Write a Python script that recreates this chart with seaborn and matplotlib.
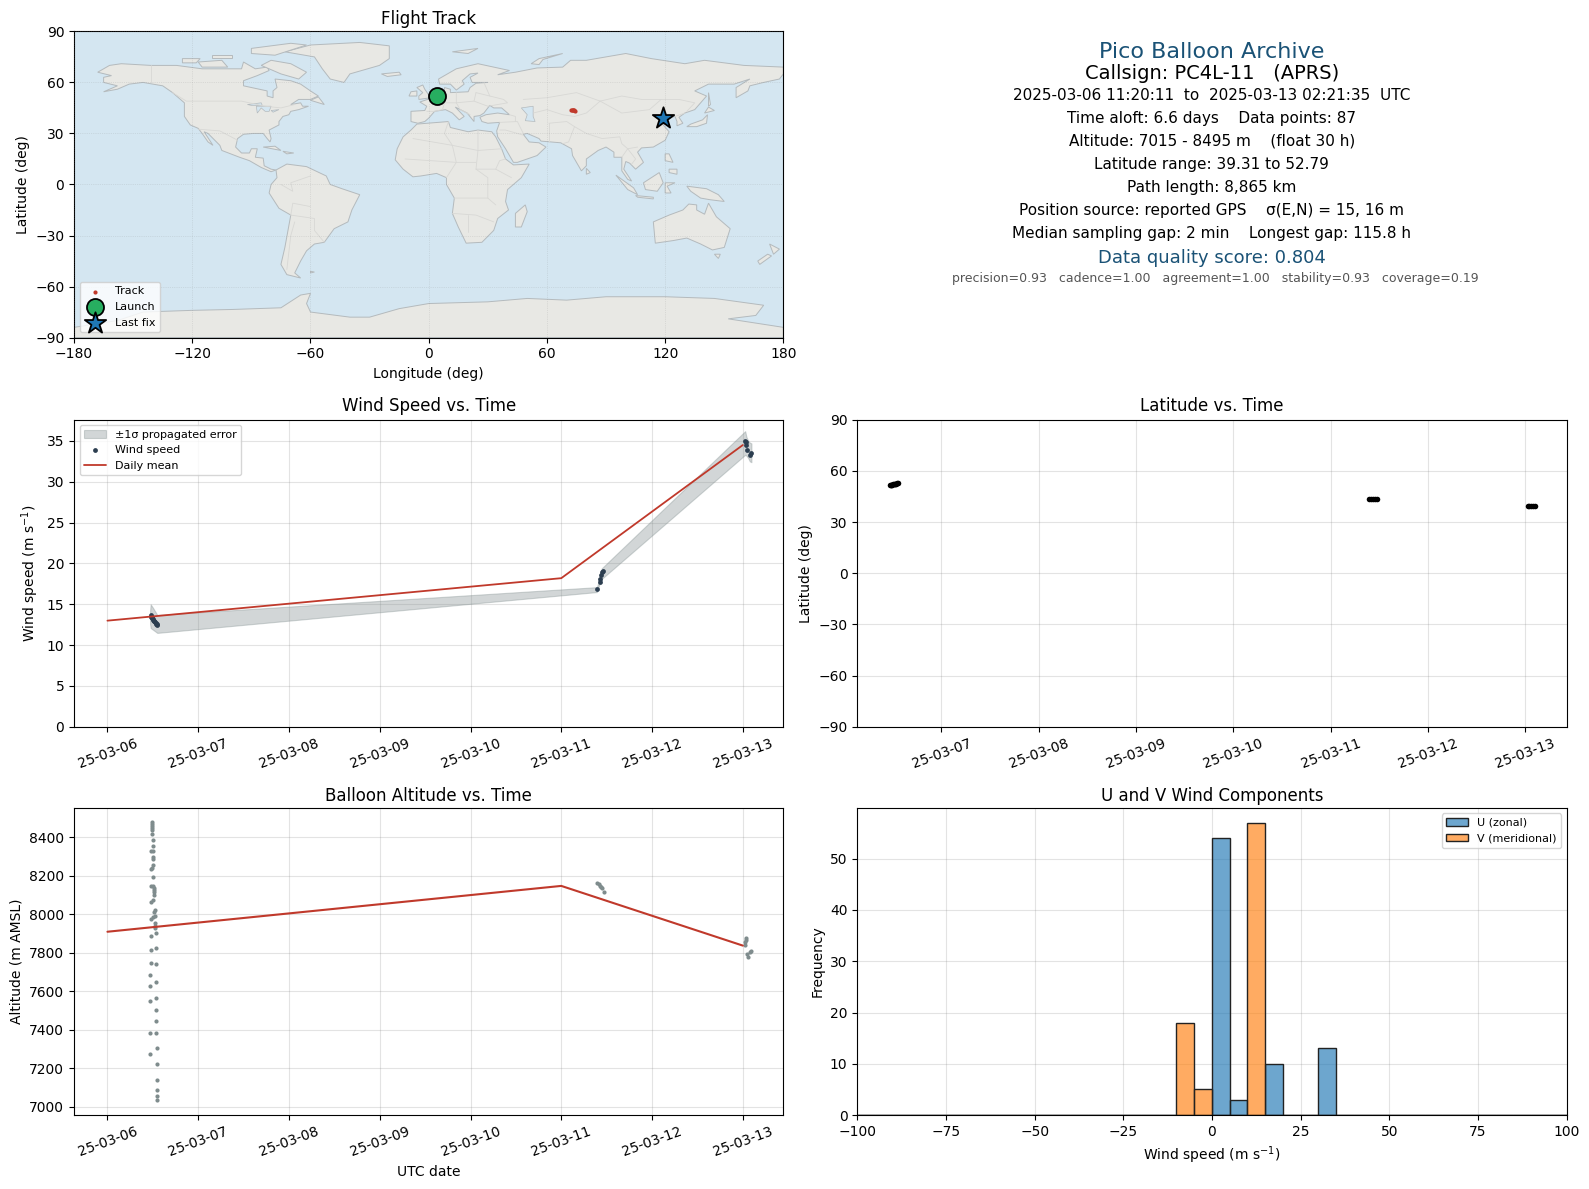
import numpy as np
import pandas as pd
import matplotlib
matplotlib.use("Agg")
import matplotlib.pyplot as plt
import matplotlib.dates as mdates
import seaborn as sns

# Flight data. Times are days of March 2025
alt_days = [6.489, 6.489, 6.489, 6.489, 6.493, 6.496, 6.5, 6.5, 6.478, 6.5, 6.5, 6.504, 6.5, 6.489, 6.478,
            6.5, 6.478, 6.507, 6.515, 6.515, 6.515, 6.515, 6.507, 6.478, 6.522, 6.511, 6.522, 6.478, 6.504,
            6.526, 6.526, 6.526, 6.533, 6.478, 6.533, 6.478, 6.478, 6.533, 6.467, 6.533, 6.467, 6.533,
            6.467, 6.533, 6.533, 6.467, 6.533, 6.544, 6.467, 6.544, 6.544, 6.544, 6.544, 6.544,
            11.396, 11.418, 11.432, 11.443, 11.454, 11.473,
            13.033, 13.033, 13.029, 13.026, 13.092, 13.077, 13.048, 13.055]
alt_m = [8482, 8472, 8461, 8451, 8440, 8416, 8384, 8353, 8327, 8327, 8300, 8286, 8258, 8243, 8236,
         8196, 8148, 8148, 8138, 8126, 8117, 8100, 8075, 8065, 8023, 8010, 7991, 7975, 7986,
         7955, 7941, 7928, 7902, 7886, 7823, 7813, 7750, 7740, 7687, 7650, 7630, 7567,
         7551, 7504, 7446, 7383, 7383, 7305, 7273, 7221, 7142, 7090, 7055, 7036,
         8165, 8158, 8150, 8143, 8136, 8117,
         7878, 7867, 7855, 7843, 7812, 7803, 7795, 7779]

wind_days = [6.476, 6.482, 6.488, 6.494, 6.5, 6.506, 6.512, 6.518, 6.524, 6.53, 6.537, 6.543, 6.549,
             11.392, 11.425, 11.432, 11.44, 11.447, 11.465,
             13.026, 13.033, 13.04, 13.051, 13.077, 13.095]
wind_ms = [13.7, 13.5, 13.4, 13.3, 13.2, 13.1, 13.0, 12.9, 12.8, 12.7, 12.6, 12.55, 12.5,
           16.87, 17.68, 18.09, 18.62, 18.94, 19.07,
           35.04, 34.9, 34.5, 33.86, 33.3, 33.5]

band_days = [6.47, 6.476, 6.5, 6.549, 11.392, 11.425, 11.445, 13.026, 13.04, 13.06, 13.077, 13.095]
band_low = [12.6, 12.1, 11.9, 11.5, 16.5, 17.6, 18.1, 33.3, 33.2, 32.9, 32.5, 32.4]
band_high = [14.2, 15.0, 14.6, 13.7, 17.1, 18.2, 19.4, 36.2, 35.5, 35.0, 34.8, 34.7]

mean_days = [6, 11, 13]
mean_wind = [13.0, 18.2, 34.5]
mean_alt = [7910, 8148, 7838]

lat_days = [6.47, 6.478, 6.486, 6.494, 6.502, 6.51, 6.518, 6.526, 6.534, 6.542, 6.55,
            11.4, 11.42, 11.44, 11.46, 11.475,
            13.03, 13.045, 13.06, 13.08, 13.1]
lat_deg = [51.6, 51.7, 51.9, 52.0, 52.1, 52.2, 52.3, 52.4, 52.6, 52.7, 52.79,
           43.5, 43.6, 43.7, 43.7, 43.6,
           39.4, 39.31, 39.35, 39.4, 39.33]

track_lon = [72.2, 72.6, 73.0, 73.4, 73.8, 74.0]
track_lat = [43.9, 43.8, 43.7, 43.6, 43.5, 43.4]
launch_pt = (4.0, 52.0)
last_pt = (118.8, 39.3)

bin_edges = list(range(-100, 105, 5))
u_left = [0, 5, 15, 30]
u_count = [54, 3, 10, 13]
v_left = [-10, -5, 10]
v_count = [18, 5, 57]

info_lines = ["2025-03-06 11:20:11  to  2025-03-13 02:21:35  UTC",
              "Time aloft: 6.6 days    Data points: 87",
              "Altitude: 7015 - 8495 m    (float 30 h)",
              "Latitude range: 39.31 to 52.79",
              "Path length: 8,865 km",
              "Position source: reported GPS    σ(E,N) = 15, 16 m",
              "Median sampling gap: 2 min    Longest gap: 115.8 h"]

# Rough coastlines
north_america = [(-168,66),(-162,70),(-156,71),(-141,70),(-128,70),(-115,68),(-108,68),(-95,68),(-94,72),(-88,68),
                 (-82,69),(-81,67),(-87,64),(-94,61),(-94,58),(-88,56.5),(-82,55),(-82,52),(-79,51),(-79,55),(-77,57),
                 (-78,62),(-70,61),(-65,59),(-60,55),(-56,52),(-60,50),(-66,50),(-70,47),(-65,48),(-64,46),(-61,46),
                 (-66,44),(-70,43),(-71,41),(-74,40),(-76,37),(-76,35),(-81,32),(-80,27),(-80.5,25),(-82,27),(-84,30),
                 (-89,30),(-94,29.5),(-97,27),(-98,22),(-95,18.5),(-91,18.5),(-90,21),(-87,21),(-88,16),(-84,15.5),
                 (-83.5,11),(-80,9),(-77.5,8.5),(-80,7.5),(-85,10),(-91,14),(-96,16),(-105,20),(-106,23),(-112,30),
                 (-114,31),(-109.5,23),(-112,25),(-115,30),(-117,33),(-121,35),(-124,40),(-124,48),(-130,54),(-135,58),
                 (-145,60),(-152,59),(-158,56),(-165,54.5),(-158,58),(-165,60),(-165,63),(-161,64)]
south_america = [(-77.5,8.5),(-72,12),(-62,10.5),(-52,5),(-50,0),(-44,-2.5),(-35,-6),(-39,-15),(-41,-22),(-48,-26),
                 (-53,-34),(-58,-35),(-62,-39),(-65,-45),(-68,-52),(-65,-55),(-72,-53),(-75,-47),(-73,-37),(-70,-18),
                 (-76,-14),(-81,-5),(-80,0),(-77,4)]
africa = [(-6,35.5),(10,37),(11,33.5),(20,31),(25,32),(32,31),(34,28),(37,21),(39,15),(43,11.5),(51,12),(47,4),(40,-3),
          (39,-10),(40.5,-15),(35,-20),(33,-27),(27,-34),(19,-34.5),(15,-25),(12,-17),(13,-8),(9,0),(9,4),(4,6.5),
          (-4,5),(-8,4.5),(-13,9),(-17,14.5),(-16,21),(-13,28),(-9,32)]
eurasia = [(-9,37),(-9,43),(-2,43.5),(-1,46),(-4.5,48.5),(2,51),(8,54),(8,57),(11,56),(11,54),(20,54.5),(21,57),(24,59.5),
           (30,60),(22,60),(21,63),(25,65.5),(21,65),(17,61),(18,59),(14,55.5),(11,59),(5.5,59),(5,62),(14,68),(25,71),
           (41,67),(35,64.5),(44,66),(55,68.5),(68,69),(72,73),(80,73),(100,77),(113,74),(130,71),(140,73),(160,70),
           (180,69),(180,65),(178,62),(170,60),(163,58),(162,55),(156,51),(156,57),(163,62),(155,59),(142,59),(135,55),
           (141,52),(135,44),(130,42),(127,39.5),(129,36),(126,34.5),(126,37),(125,40),(121,39),(118,39),(122,37),
           (119,35),(122,31),(120,26),(114,22),(108,21.5),(106,19),(109,13),(105,9),(102,12.5),(100,13.5),(99,9),(103,2),
           (101,3),(98,8),(98,16),(94,16),(94,19),(90,22),(86,20),(80,15),(80,11),(77.5,8),(73,17),(72.5,21),(67,24.5),
           (57,25.5),(56,27),(50,30),(48,29.5),(51,25),(56,24.5),(59.5,22),(55,17),(45,13),(43,13),(39,21),(35,28),
           (34.5,31.5),(36,36.5),(30,36),(27,37),(26,39.5),(29,41),(35,42),(41,41),(37,45),(33,45),(31,46.5),(28,42),
           (26,40.5),(23,40),(23,37),(19.5,42),(13.5,45.5),(18,40),(15.5,38),(12,42),(8.5,44),(3,43),(0,39),(-2,37),
           (-5.5,36)]
australia = [(114,-22),(122,-18),(129,-15),(132,-11.5),(136,-12),(136,-15),(140,-17.5),(142,-11),(146,-19),(153,-26),
             (150,-37),(144,-38.5),(138,-35),(131,-31.5),(124,-33),(115,-34.5)]
antarctica = [(-180,-90),(-180,-84),(-158,-80),(-145,-75),(-120,-74),(-100,-73.5),(-75,-72.5),(-65,-65),(-60,-64),
              (-62,-70),(-60,-75),(-40,-78),(-30,-78),(-15,-73),(0,-70),(30,-69),(50,-67),(70,-68),(90,-66),(120,-66),
              (145,-67),(170,-71),(166,-77),(152,-79),(180,-84),(180,-90)]
greenland = [(-73,78),(-60,82),(-35,83.5),(-20,81.5),(-20,74),(-25,70),(-40,65),(-43,60),(-50,62),(-54,68),(-58,75)]
islands = [[(-80,73),(-70,71),(-62,66),(-66,62),(-75,65),(-85,70)],
           [(-90,80),(-70,83),(-62,82),(-78,76),(-90,77)],
           [(-117,72),(-105,73),(-102,69),(-115,69)],
           [(-125,74),(-116,74),(-118,71.5),(-125,71.5)],
           [(-110,76),(-100,76),(-100,74.5),(-110,74.5)],
           [(-60,49.5),(-53,47),(-56,51.5)],
           [(-84,22),(-75,20),(-78,22.5)],
           [(-74,19.5),(-68.5,18.5),(-72,18)],
           [(-5,50),(1,51),(-2,56),(-3,58.5),(-6,57),(-3,54),(-5,52)],
           [(-10,52),(-6,52),(-6,55),(-9,54.5)],
           [(-24,65),(-15,66),(-14,64.5),(-21,63.5)],
           [(12,78),(25,80),(20,77)],
           [(52,71),(56,74),(68,77),(58,73.5),(56,70.5)],
           [(49,-12),(50,-16),(47,-25),(44,-25),(44,-17)],
           [(80,9.5),(82,7),(80,6)],
           [(131,34),(136,34),(141,36),(141.5,41),(139,38),(133,35.5)],
           [(140,42),(145,43.5),(142,45.5)],
           [(142,54),(143,47),(142,46),(142,50)],
           [(95,5.5),(104,-2),(106,-6),(101,-3)],
           [(105,-6.5),(114,-7.5),(114,-8.5),(106,-7.5)],
           [(109,1),(117,7),(119,1),(116,-4),(110,-3)],
           [(120,1),(125,1),(121,-1),(123,-5),(120,-5)],
           [(131,-1),(141,-2.5),(147,-6),(150,-10),(143,-9),(138,-8),(133,-4)],
           [(120,18),(122,18),(124,13),(120,14)],
           [(122,9),(126,9),(126,6),(122,7)],
           [(145,-41),(148,-41),(147,-43.5)],
           [(173,-35),(178,-38),(175,-41),(174,-38)],
           [(172,-41),(174,-42),(168,-47),(167,-45)],
           [(-60,-51),(-58,-51.5),(-60,-52)]]
lakes = [[(47,45),(53,46),(53,40),(54,37),(49,37.5),(50,41)],
         [(-92,47),(-85,48),(-84.5,46.5),(-90,46.5)],
         [(-87.5,46),(-80,46),(-81,43),(-83,43),(-85,45),(-87,42)],
         [(-80,43.5),(-76,44),(-79,42.5)]]
borders = [[(-141,70),(-141,60)],[(-130,54),(-123,49),(-95,49),(-83,46),(-75,45),(-68,47)],
           [(-117,32.5),(-106,31.5),(-97,26)],[(-70,-18),(-58,-20),(-58,-27),(-53,-34)],[(-70,-18),(-69,-11),(-60,-13)],
           [(-75,0),(-69,-4),(-70,1),(-60,5)],[(-72,-50),(-70,-30),(-68,-22)],
           [(-8,27),(12,23),(25,20),(37,21)],[(25,32),(25,20),(24,9),(34,9),(42,4)],[(-12,15),(14,13),(24,13)],
           [(10,37),(8,30),(12,23),(14,13),(9,4)],[(13,-8),(30,-8),(34,-12)],[(12,-17),(24,-18),(33,-22)],
           [(20,-28),(20,-18)],[(30,-8),(30,4),(24,9)],[(34,9),(36,14),(39,15)],
           [(-1,43),(3,43),(7,44),(8,48),(6,51),(2,51)],[(8,48),(14,48),(16,44),(21,41)],[(14,54),(14,48),(23,49),(24,54)],
           [(23,49),(30,46),(40,48),(38,50),(31,52),(24,54)],[(28,60),(31,52)],[(36,36.5),(45,37),(48,30)],[(44,37),(44,40),(41,41)],
           [(36,32),(39,32),(48,29)],[(61,36),(61,25)],[(61,36),(70,37),(74,34),(71,25),(68,24)],
           [(53,42),(60,44),(68,41),(74,40)],[(48,50),(60,51),(75,54),(87,49),(80,42),(74,40)],
           [(87,49),(98,52),(108,50),(118,50),(127,50),(135,48),(131,43)],[(87,49),(98,42),(112,44),(118,50)],
           [(74,34),(80,30),(88,27),(97,28),(98,24),(101,21),(106,22)],[(98,16),(101,21),(105,15),(103,12)],
           [(125,40),(130,42)]]


def to_dates(days):
    # days of March 2025 to timestamps
    return pd.Timestamp("2025-03-01") + pd.to_timedelta(np.array(days) - 1, unit="D")


sns.set_style("ticks")
plt.rcParams.update({"font.family": "DejaVu Sans", "axes.edgecolor": "black", "text.color": "black",
                     "axes.labelcolor": "black", "xtick.color": "black", "ytick.color": "black",
                     "font.size": 10, "axes.titlesize": 12, "axes.labelsize": 10, "axes.titlepad": 5,
                     "xtick.labelsize": 10, "ytick.labelsize": 10, "patch.linewidth": 1.0})

fig = plt.figure(figsize=(15.89, 11.89), dpi=100)
ax_map = fig.add_axes([0.0466, 0.7161, 0.4464, 0.2575])
ax_info = fig.add_axes([0.5395, 0.7161, 0.4464, 0.2575])
ax_wind = fig.add_axes([0.0466, 0.3887, 0.4464, 0.2583])
ax_lat = fig.add_axes([0.5395, 0.3887, 0.4464, 0.2583])
ax_alt = fig.add_axes([0.0466, 0.0622, 0.4464, 0.2583])
ax_hist = fig.add_axes([0.5395, 0.0622, 0.4464, 0.2583])

# Flight track map
ax_map.set_facecolor("#d4e6f1")
land_polys = [north_america, south_america, africa, eurasia, australia, antarctica, greenland] + islands
for poly in land_polys:
    xs, ys = zip(*poly)
    ax_map.fill(xs, ys, facecolor="#e8e8e4", edgecolor="#b4babd", linewidth=0.7, zorder=1)
for poly in lakes:
    xs, ys = zip(*poly)
    ax_map.fill(xs, ys, facecolor="#d4e6f1", edgecolor="#b4babd", linewidth=0.5, zorder=1.5)
for line in borders:
    xs, ys = zip(*line)
    ax_map.plot(xs, ys, color="#d8d8d5", linewidth=0.6, zorder=1.6)
sns.scatterplot(x=track_lon, y=track_lat, ax=ax_map, color="#c0392b", s=9, linewidth=0, label="Track", zorder=4)
ax_map.scatter(*launch_pt, s=150, c="#27ae60", edgecolors="black", linewidths=1.3, label="Launch", zorder=5)
ax_map.scatter(*last_pt, s=260, c="#1f77b4", marker="*", edgecolors="black", linewidths=1.3, label="Last fix", zorder=5)
ax_map.set_xlim(-180, 180)
ax_map.set_ylim(-90, 90)
ax_map.set_xticks(range(-180, 181, 60))
ax_map.set_yticks(range(-90, 91, 30))
ax_map.grid(True, color="gray", alpha=0.3, linewidth=0.5, linestyle=":")
ax_map.set_axisbelow(False)
ax_map.set_title("Flight Track")
ax_map.set_xlabel("Longitude (deg)", labelpad=4)
ax_map.set_ylabel("Latitude (deg)")
ax_map.legend(loc="lower left", fontsize=8)

# Summary text
ax_info.axis("off")
blue = "#1a5276"


def info(y_px, txt, x=0.5, **kw):
    ax_info.text(x, (332 - y_px) / 302, txt, transform=ax_info.transAxes, ha="center", va="center", **kw)


info(50, "Pico Balloon Archive", fontsize=16, color=blue)
info(72, "Callsign: PC4L-11   (APRS)", fontsize=14)
for i, line in enumerate(info_lines):
    info(93 + i * 22.65, line, fontsize=11)
info(254, "Data quality score: 0.804", fontsize=13, color=blue)
info(274, "precision=0.93   cadence=1.00   agreement=1.00   stability=0.93   coverage=0.19", x=0.505, fontsize=9, color="#555555")

# Wind speed
ax_wind.fill_between(to_dates(band_days), band_low, band_high, color="#7f8c8d", alpha=0.35, linewidth=0.8,
                     label="±1σ propagated error")
sns.scatterplot(x=to_dates(wind_days), y=wind_ms, ax=ax_wind, color="#2c3e50", s=12, linewidth=0, label="Wind speed", zorder=3)
sns.lineplot(x=to_dates(mean_days), y=mean_wind, ax=ax_wind, color="#c0392b", linewidth=1.3, label="Daily mean", zorder=4)
ax_wind.set_ylim(0, 37.6)
ax_wind.set_title("Wind Speed vs. Time", pad=6)
ax_wind.set_ylabel("Wind speed (m s$^{-1}$)")
ax_wind.set_xlabel("")
ax_wind.legend(loc="upper left", fontsize=8)

# Latitude
sns.scatterplot(x=to_dates(lat_days), y=lat_deg, ax=ax_lat, color="black", s=16, linewidth=0)
ax_lat.set_ylim(-90, 90)
ax_lat.set_yticks(range(-90, 91, 30))
ax_lat.set_title("Latitude vs. Time", pad=6)
ax_lat.set_ylabel("Latitude (deg)")
ax_lat.set_xlabel("")

# Altitude
sns.scatterplot(x=to_dates(alt_days), y=alt_m, ax=ax_alt, color="#7f8c8d", s=9, linewidth=0)
sns.lineplot(x=to_dates(mean_days), y=mean_alt, ax=ax_alt, color="#c0392b", linewidth=1.5)
ax_alt.set_ylim(6958, 8553)
ax_alt.set_title("Balloon Altitude vs. Time")
ax_alt.set_ylabel("Altitude (m AMSL)")
ax_alt.set_xlabel("UTC date")

ax_wind.set_xlim(to_dates([5.632])[0], to_dates([13.447])[0])
ax_alt.set_xlim(to_dates([5.632])[0], to_dates([13.447])[0])
ax_lat.set_xlim(to_dates([6.135])[0], to_dates([13.427])[0])
for ax in (ax_wind, ax_lat, ax_alt):
    ax.xaxis.set_major_locator(mdates.DayLocator())
    ax.xaxis.set_major_formatter(mdates.DateFormatter("%y-%m-%d"))
    ax.tick_params(axis="x", labelrotation=20)
    ax.grid(True, color="gray", alpha=0.22, linewidth=0.8)
    ax.set_axisbelow(True)

# Wind components histogram
sns.histplot(x=np.array(u_left) + 2.5, weights=u_count, bins=bin_edges, ax=ax_hist, color="#1f77b4", alpha=0.65,
             edgecolor="#222222", linewidth=1.0, label="U (zonal)")
sns.histplot(x=np.array(v_left) + 2.5, weights=v_count, bins=bin_edges, ax=ax_hist, color="#ff7f0e", alpha=0.65,
             edgecolor="#222222", linewidth=1.0, label="V (meridional)")
ax_hist.set_xlim(-100, 100)
ax_hist.set_ylim(0, 59.9)
ax_hist.set_title("U and V Wind Components")
ax_hist.set_xlabel("Wind speed (m s$^{-1}$)")
ax_hist.set_ylabel("Frequency")
ax_hist.grid(True, color="gray", alpha=0.22, linewidth=0.8)
ax_hist.set_axisbelow(True)
ax_hist.legend(loc="upper right", fontsize=8)

fig.savefig("out.png", dpi=100)
